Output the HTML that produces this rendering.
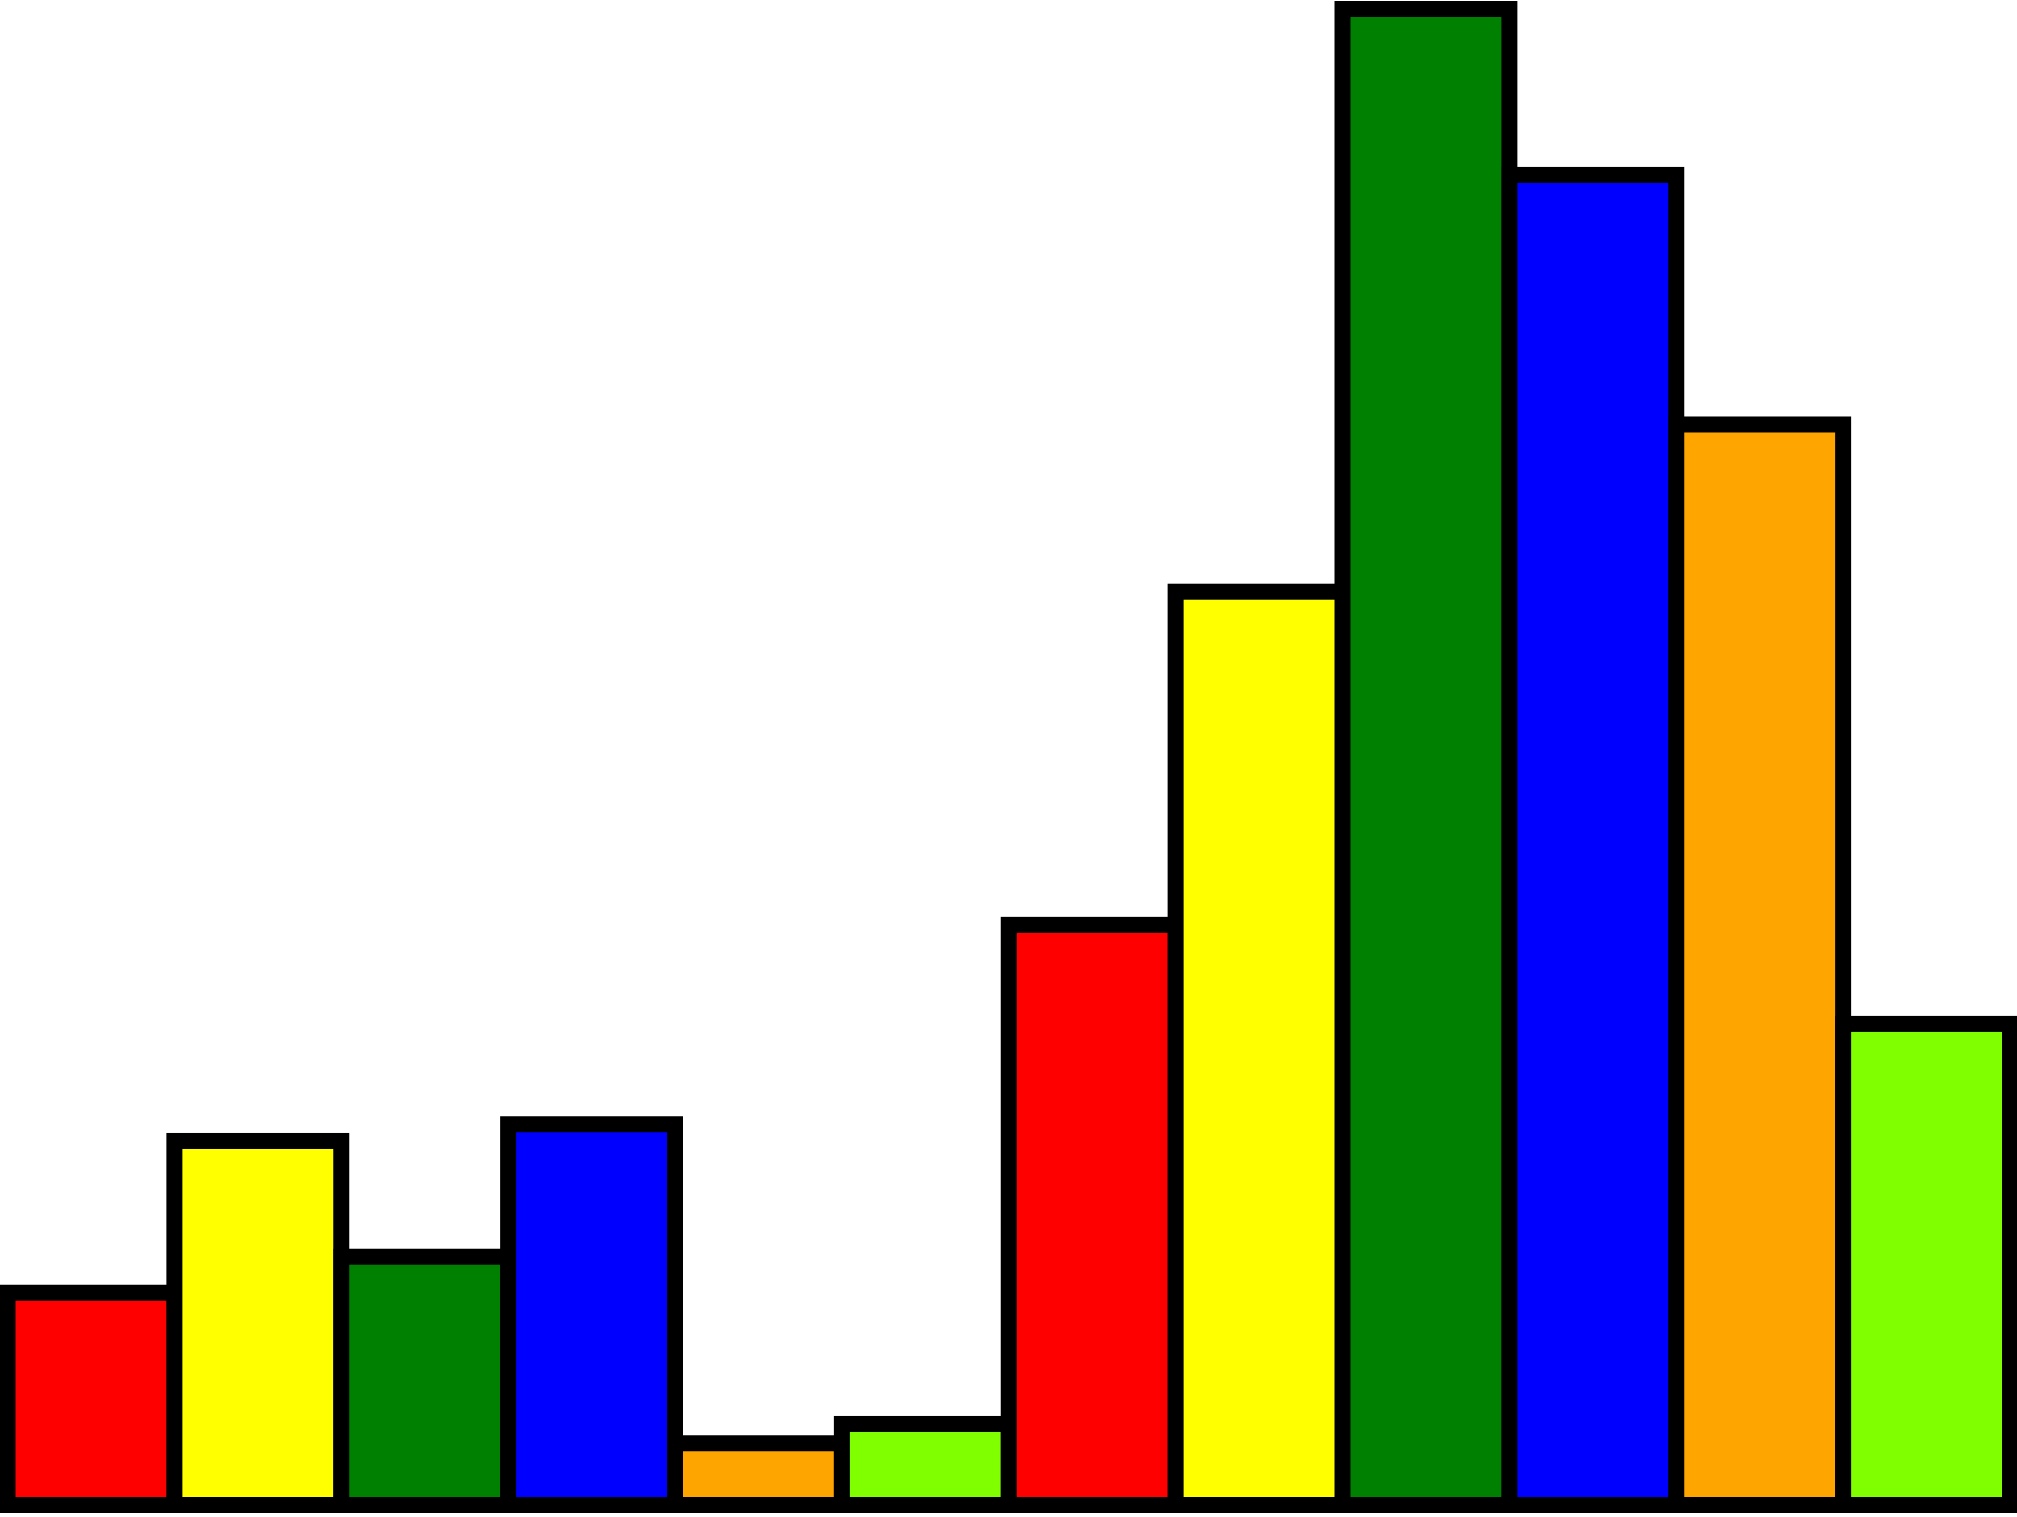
<!DOCTYPE html>
<html>
<head>
<meta charset="utf-8">
<style>
html,body{margin:0;padding:0;background:#fff;}
svg{display:block;}
</style>
</head>
<body>
<svg id="chart" width="2017" height="1517" viewBox="0 0 2017 1517" xmlns="http://www.w3.org/2000/svg"></svg>
<script>
const categories = ["b1","b2","b3","b4","b5","b6","b7","b8","b9","b10","b11","b12"];
const values = [165, 283, 193, 296, 48, 63, 451, 710, 1163, 1034, 840, 374];
const colors = ["#ff0000","#ffff00","#008000","#0000ff","#ffa500","#80ff00","#ff0000","#ffff00","#008000","#0000ff","#ffa500","#80ff00"];

(function(){
  const plotLeft = 7.5, plotRight = 2010, plotBottom = 1505, plotTop = 9;
  const maxV = 1163;
  const bw = (plotRight - plotLeft) / categories.length;
  function xPos(i){ return plotLeft + i * bw; }
  function yPos(v){ return plotBottom - v * (plotBottom - plotTop) / maxV; }

  const svg = document.getElementById('chart');
  const NS = "http://www.w3.org/2000/svg";
  categories.forEach(function(c, i){
    const r = document.createElementNS(NS, 'rect');
    const y = yPos(values[i]);
    r.setAttribute('x', xPos(i));
    r.setAttribute('y', y);
    r.setAttribute('width', bw);
    r.setAttribute('height', plotBottom - y);
    r.setAttribute('fill', colors[i]);
    r.setAttribute('stroke', '#000');
    r.setAttribute('stroke-width', '16');
    
    
    svg.appendChild(r);
  });
})();
</script>
</body>
</html>
